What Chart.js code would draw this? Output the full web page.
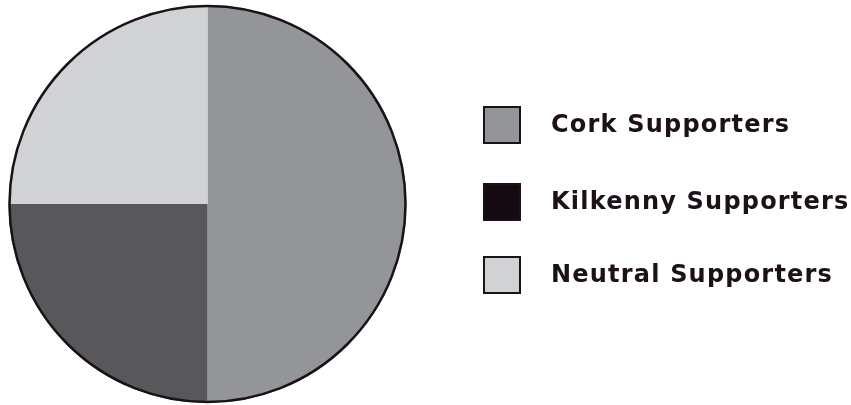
<!DOCTYPE html>
<html>
<head>
<meta charset="utf-8">
<script src="https://cdn.jsdelivr.net/npm/chart.js@4"></script>
<style>
  html, body { margin: 0; padding: 0; background: #fff; }
  #wrap { width: 851px; height: 405px; }
</style>
</head>
<body>
<div id="wrap"><canvas id="pieChart"></canvas></div>
<script>
// Datos del gráfico
const labels = ["Cork Supporters", "Kilkenny Supporters", "Neutral Supporters"];
const values = [50, 25, 25];
const sliceColors = ["#939598", "#58585a", "#d1d2d4"];
const legendColors = ["#939598", "#140a12", "#d1d2d4"];

const inkColor = "#1c1019";

//Borde exterior del círculo (sin líneas entre sectores)
const outerRing = {
    id: "outerRing",
    afterDatasetsDraw(chart) {
        const arc = chart.getDatasetMeta(0).data[0];
        if (!arc) return;
        const ctx = chart.ctx;
        ctx.save();
        ctx.beginPath();
        ctx.arc(arc.x, arc.y, arc.outerRadius - 1, 0, Math.PI * 2);
        ctx.lineWidth = 2.5;
        ctx.strokeStyle = inkColor;
        ctx.stroke();
        ctx.restore();
    }
};

//Leyenda a la derecha
const sideLegend = {
    id: "sideLegend",
    afterDraw(chart) {
        const ctx = chart.ctx;
        const boxX = 484, box = 36, textX = 551;
        const rowsY = [125, 202, 275];
        ctx.save();
        ctx.font = "bold 24px 'DejaVu Sans'";
        ctx.letterSpacing = "1.2px";
        ctx.textBaseline = "middle";
        chart.data.labels.forEach((label, i) => {
            const y = rowsY[i];
            ctx.fillStyle = legendColors[i];
            ctx.fillRect(boxX, y - box / 2, box, box);
            ctx.lineWidth = 2;
            ctx.strokeStyle = inkColor;
            ctx.strokeRect(boxX, y - box / 2, box, box);
            ctx.fillStyle = inkColor;
            ctx.fillText(label, textX, y + 1);
        });
        ctx.restore();
    }
};

new Chart(document.getElementById("pieChart"), {
    type: "pie",
    data: {
        labels: labels,
        datasets: [{
            data: values,
            backgroundColor: sliceColors,
            borderWidth: 0
        }]
    },
    options: {
        responsive: true,
        maintainAspectRatio: false,
        animation: false,
        layout: { padding: { left: 8, top: 5, right: 444, bottom: 2 } },
        plugins: {
            legend: { display: false },
            tooltip: { enabled: false }
        }
    },
    plugins: [outerRing, sideLegend]
});
</script>
</body>
</html>
